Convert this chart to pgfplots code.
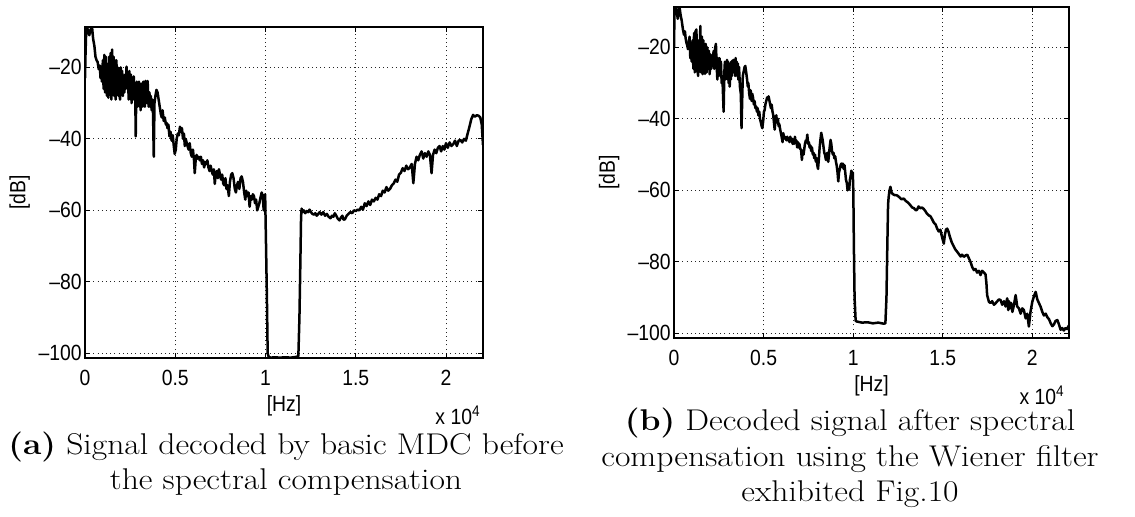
\documentclass[border=0pt]{standalone}
\usepackage{pgfplots}
\pgfplotsset{compat=1.18}
\usepackage{pgfplotstable}
\usepackage{graphicx}
\usepackage{fontspec}
\newfontfamily\arial[FakeStretch=0.88]{Liberation Sans}

\pgfplotstableread{
x y
0.000 -23
0.003 -16
0.007 -9
0.012 -8.9
0.018 -10
0.024 -11
0.030 -9.5
0.036 -9
0.040 -9.2
0.045 -12
0.052 -14
0.058 -17
0.064 -18
0.070 -18.5
0.076 -20.5
0.082 -19.5
0.086 -23
0.090 -21
0.094 -24
0.099 -18
0.103 -26
0.107 -16.5
0.111 -27
0.115 -17
0.119 -25
0.122 -28
0.126 -19
0.130 -28.5
0.134 -17
0.138 -27
0.142 -16
0.146 -29
0.150 -15
0.154 -27
0.158 -17
0.162 -28
0.166 -18
0.170 -29
0.174 -18
0.178 -27
0.182 -20
0.186 -28
0.190 -21
0.194 -29
0.198 -20
0.202 -27
0.206 -21
0.210 -28
0.214 -23
0.218 -27
0.222 -22
0.226 -26
0.230 -19.8
0.234 -24
0.238 -22
0.242 -29
0.246 -21
0.250 -28
0.254 -22
0.258 -30
0.262 -23
0.266 -29
0.270 -22.5
0.275 -28
0.278 -25
0.281 -39.3
0.284 -27
0.287 -24
0.290 -31
0.293 -25
0.296 -30
0.299 -24
0.302 -31
0.305 -25
0.308 -32
0.311 -24.5
0.314 -30
0.317 -25
0.320 -31
0.323 -24
0.326 -30
0.329 -24.5
0.332 -31
0.335 -23.8
0.338 -29
0.341 -24
0.344 -30
0.347 -23.8
0.350 -28
0.353 -31
0.357 -27
0.361 -31
0.365 -28
0.369 -32
0.373 -29
0.377 -33
0.381 -45
0.385 -30
0.390 -28
0.396 -26.3
0.402 -27
0.408 -29
0.414 -31
0.420 -33
0.425 -34
0.430 -32
0.436 -35
0.442 -34
0.448 -36
0.452 -35.5
0.457 -37
0.462 -36
0.468 -39.3
0.474 -38
0.480 -40.5
0.486 -39
0.492 -42
0.497 -44.2
0.503 -43
0.508 -40
0.514 -38.5
0.520 -39
0.526 -36.6
0.532 -38
0.537 -37
0.543 -40
0.548 -38.5
0.553 -42
0.558 -40
0.563 -41
0.568 -42
0.574 -43
0.580 -41.2
0.586 -44
0.592 -45
0.598 -43
0.604 -46
0.608 -49.6
0.613 -46
0.618 -44.5
0.624 -45.5
0.630 -45
0.636 -46
0.642 -45
0.648 -47
0.654 -46
0.660 -48
0.666 -46.5
0.672 -47
0.678 -46
0.684 -48
0.690 -49
0.696 -47.5
0.702 -49
0.708 -50
0.714 -48.5
0.719 -52.6
0.724 -50
0.730 -49
0.736 -51
0.742 -48.5
0.748 -50
0.754 -51.4
0.760 -50
0.766 -52.5
0.772 -53
0.778 -51
0.784 -54
0.790 -53
0.797 -56
0.803 -52
0.810 -50
0.816 -49.6
0.823 -51
0.830 -54
0.836 -55
0.842 -53
0.848 -52
0.855 -54
0.862 -51
0.868 -50.5
0.875 -52
0.882 -55
0.888 -57
0.893 -54.5
0.900 -56
0.906 -55
0.912 -59
0.918 -56
0.924 -57
0.930 -55.5
0.936 -56
0.942 -58
0.948 -57
0.954 -60
0.960 -59
0.966 -58
0.972 -56.5
0.979 -55
0.985 -56
0.990 -60
0.994 -58
0.998 -55.5
1.003 -70
1.008 -85
1.012 -100
1.018 -101
1.030 -101.2
1.050 -101.1
1.080 -101.2
1.110 -101.1
1.140 -101.2
1.170 -101.0
1.182 -100.8
1.188 -90
1.193 -75
1.197 -62
1.200 -59.5
1.205 -60.5
1.212 -60
1.220 -60.8
1.228 -60.2
1.236 -60.5
1.244 -59.8
1.252 -60.5
1.260 -61
1.268 -61.2
1.276 -60.8
1.284 -61.5
1.292 -61
1.300 -60.5
1.310 -61.2
1.320 -60.5
1.330 -61.5
1.340 -61
1.350 -61.8
1.360 -62.2
1.368 -61.5
1.376 -61.8
1.384 -60.8
1.392 -61.5
1.400 -62.3
1.410 -62.8
1.418 -62
1.426 -61.5
1.432 -62.6
1.440 -62.5
1.450 -61.5
1.460 -61
1.470 -60.5
1.480 -60.8
1.490 -60
1.500 -60.2
1.510 -59.8
1.520 -60
1.530 -59
1.540 -59.8
1.550 -58
1.560 -58.8
1.570 -57.5
1.580 -58.5
1.590 -57
1.600 -57.5
1.610 -56.5
1.620 -57
1.630 -55.5
1.640 -56
1.650 -54.5
1.660 -55
1.670 -53.5
1.680 -54.5
1.690 -54
1.700 -53
1.710 -52.5
1.720 -51.4
1.730 -52
1.740 -50
1.750 -49.5
1.760 -48.2
1.770 -49
1.780 -47.5
1.790 -48.5
1.800 -48
1.810 -47
1.819 -52.4
1.828 -47
1.837 -45
1.846 -46
1.855 -44.5
1.865 -43.5
1.874 -45.5
1.883 -44
1.893 -45
1.902 -43.5
1.911 -44.5
1.920 -49.6
1.928 -44.5
1.937 -43
1.946 -44
1.955 -42.5
1.964 -42
1.973 -43.5
1.982 -42
1.991 -43
2.000 -41.2
2.010 -42.5
2.020 -41
2.030 -42
2.040 -41.5
2.050 -40.5
2.060 -42
2.070 -40.5
2.080 -40.3
2.090 -41
2.100 -40
2.110 -40.5
2.120 -38.5
2.130 -36.6
2.140 -34.5
2.150 -33.3
2.160 -33.8
2.170 -33.4
2.180 -33.5
2.190 -34
2.198 -36
2.205 -41.7
}\dataA

\pgfplotstableread{
x y
0.000 -20
0.003 -9
0.009 -8.7
0.015 -10
0.021 -12
0.026 -9.5
0.031 -8.8
0.037 -11
0.043 -12.5
0.050 -15
0.056 -16.5
0.061 -15.5
0.065 -17.5
0.069 -18.6
0.074 -19.5
0.078 -20.5
0.082 -19
0.087 -17
0.091 -23
0.095 -19
0.099 -24
0.104 -18
0.108 -26
0.112 -16
0.116 -27
0.120 -15.5
0.125 -15
0.130 -26
0.135 -28
0.139 -18
0.143 -25
0.147 -14
0.151 -27
0.156 -17
0.160 -27.5
0.164 -18
0.169 -26
0.173 -27.4
0.177 -19
0.182 -27
0.186 -20
0.190 -26
0.195 -21
0.199 -27.5
0.204 -22
0.208 -26
0.212 -23
0.216 -25
0.221 -21
0.225 -26
0.230 -20
0.234 -19
0.238 -25
0.242 -29
0.246 -23
0.250 -28
0.254 -23
0.258 -27
0.262 -24
0.266 -30
0.270 -28
0.277 -38
0.281 -27
0.284 -24
0.287 -29
0.290 -24
0.293 -28
0.296 -23.5
0.299 -29
0.302 -24
0.305 -30
0.308 -25
0.311 -31
0.314 -24.5
0.317 -29
0.320 -24
0.323 -28
0.326 -23.7
0.329 -27
0.332 -23.5
0.335 -27
0.338 -24
0.341 -28
0.344 -23
0.347 -27
0.350 -24
0.353 -28
0.356 -24.5
0.359 -29
0.363 -25.5
0.368 -31
0.373 -33
0.377 -42.6
0.381 -34
0.384 -28
0.390 -26.5
0.394 -25.5
0.398 -25.2
0.403 -27
0.408 -29
0.412 -31
0.415 -30
0.420 -33
0.424 -34.4
0.428 -32
0.433 -35
0.437 -33
0.441 -34
0.446 -36
0.450 -35
0.454 -37
0.458 -36.5
0.463 -38
0.467 -37
0.471 -39
0.476 -38
0.480 -40
0.485 -41
0.489 -42
0.493 -42.6
0.498 -40.5
0.502 -38
0.506 -37.5
0.510 -36
0.515 -35
0.520 -34
0.524 -34.5
0.528 -33.7
0.533 -35
0.537 -36
0.541 -37
0.545 -36
0.550 -38
0.554 -39
0.558 -41
0.562 -43
0.567 -40
0.571 -39
0.575 -41
0.580 -40
0.584 -42
0.588 -41.5
0.593 -43
0.597 -44
0.601 -45
0.606 -46.5
0.610 -44
0.615 -45.5
0.619 -45
0.623 -45.5
0.628 -46
0.632 -45
0.636 -46
0.640 -45.5
0.645 -46.5
0.649 -45
0.653 -46
0.657 -45.5
0.662 -47
0.666 -45.8
0.670 -47
0.675 -45
0.679 -46.5
0.683 -46
0.688 -48
0.692 -46.5
0.696 -48
0.700 -47
0.705 -48.5
0.709 -48.5
0.714 -51.5
0.718 -49
0.723 -50
0.727 -48.5
0.731 -47
0.736 -46
0.740 -46.5
0.744 -44.4
0.749 -47
0.753 -46.5
0.757 -48
0.762 -47.5
0.766 -49
0.770 -48
0.775 -50
0.779 -49.5
0.783 -51
0.787 -50
0.792 -52
0.796 -51
0.800 -53
0.804 -54
0.809 -51
0.813 -48
0.817 -46
0.822 -43.9
0.826 -45
0.830 -46
0.835 -48
0.839 -49.5
0.843 -50
0.848 -51.5
0.852 -50
0.856 -49.5
0.861 -52
0.865 -50
0.869 -48
0.874 -45.9
0.878 -47
0.882 -49
0.887 -50
0.891 -49.5
0.895 -51
0.900 -50.5
0.904 -52
0.908 -53
0.913 -55
0.917 -57.5
0.921 -55
0.926 -54
0.930 -53
0.934 -52.5
0.939 -53.5
0.943 -52.5
0.947 -54
0.952 -53
0.956 -55
0.960 -57
0.965 -58
0.969 -60
0.973 -58.5
0.978 -59.8
0.982 -57
0.986 -56
0.990 -54.5
0.995 -56
0.998 -55
1.001 -60
1.004 -75
1.008 -90
1.014 -96.5
1.021 -96.7
1.050 -97
1.080 -96.9
1.110 -97.2
1.140 -97
1.170 -97.3
1.180 -97.2
1.186 -90
1.191 -75
1.195 -64
1.198 -62
1.203 -60
1.208 -59
1.214 -60.5
1.220 -61
1.230 -61.3
1.245 -61.4
1.260 -62
1.270 -62.5
1.282 -62.3
1.295 -63
1.308 -63.5
1.320 -64.2
1.330 -64.8
1.340 -65
1.350 -65.6
1.357 -65.4
1.365 -64.5
1.375 -65
1.385 -64.8
1.394 -65.2
1.403 -65.8
1.412 -66.5
1.422 -67
1.431 -67.2
1.440 -68
1.450 -69
1.460 -69.5
1.469 -70.7
1.478 -71.5
1.487 -71
1.496 -73
1.506 -74.9
1.512 -72.5
1.518 -71
1.525 -70.7
1.532 -71.5
1.540 -73
1.550 -74.5
1.560 -75.5
1.570 -76.5
1.581 -77.2
1.590 -77.8
1.600 -78.5
1.608 -78
1.618 -78.6
1.628 -78.2
1.637 -78
1.646 -79
1.655 -80
1.665 -81.5
1.674 -82.3
1.683 -82
1.692 -83
1.702 -82.5
1.711 -83.7
1.720 -82.5
1.730 -83
1.739 -83.5
1.744 -86
1.748 -89.3
1.758 -91.2
1.767 -91.5
1.776 -91
1.786 -92
1.795 -91.6
1.805 -91
1.814 -90.5
1.823 -90.7
1.832 -92
1.842 -91
1.851 -92.5
1.860 -90.2
1.866 -93.5
1.870 -91
1.876 -93
1.882 -91.5
1.889 -94
1.898 -92
1.907 -89.3
1.916 -92.5
1.925 -93
1.935 -94.5
1.944 -93
1.953 -93.5
1.963 -95.8
1.972 -94.5
1.981 -98.1
1.990 -94
2.000 -91.2
2.010 -89.5
2.019 -88.4
2.028 -90.5
2.037 -91.5
2.046 -92.5
2.056 -94
2.065 -95
2.075 -94.5
2.084 -95.5
2.093 -96
2.103 -97.2
2.112 -98
2.121 -97.5
2.130 -96.5
2.140 -96.3
2.149 -97.5
2.158 -99
2.167 -98.5
2.176 -99.2
2.186 -98.5
2.195 -98.8
2.202 -98
2.209 -97.5
}\dataB

\newcommand\tfont{\arial\fontsize{11}{12.5}\selectfont}

\pgfplotsset{
  mat/.style={
    scale only axis,
    xmin=0, xmax=2.205,
    ymin=-101.3, ymax=-8.7,
    xtick={0,0.5,1,1.5,2},
    xticklabels={0,0.5,1,1.5,2},
    ytick={-100,-80,-60,-40,-20},
    yticklabels={\textendash100,\textendash80,\textendash60,\textendash40,\textendash20},
    tick align=inside,
    major tick length=2.5pt,
    grid=major,
    major grid style={black!85, line width=0.5pt, dash pattern=on 0.5pt off 1.6pt},
    axis line style={black, line width=0.6pt},
    every tick/.style={black, line width=0.5pt},
    ticklabel style={font=\tfont},
    xticklabel style={inner ysep=0pt, yshift=-6pt},
    yticklabel style={inner xsep=1.5pt},
    label style={font=\tfont},
    xlabel={[Hz]},
    ylabel={[dB]},
    xlabel style={at={(axis description cs:0.5,-0.145)}, anchor=center},
    ylabel style={at={(axis description cs:-0.164,0.5)}, anchor=center},
    clip mode=individual,
  },
}

\begin{document}
\begin{tikzpicture}[x=1pt,y=1pt]
\path[use as bounding box] (0,0) rectangle (567.5,258.5);

\begin{axis}[mat, at={(42.5pt,79.5pt)}, anchor=south west, width=199pt, height=165.5pt]
\addplot[black, line width=1.25pt, line join=round] table[x=x,y=y] {\dataA};
\node[font=\tfont, anchor=east, inner sep=0pt] at (axis description cs:0.995,-0.173) {x 10\textsuperscript{4}};
\end{axis}

\begin{axis}[mat, at={(337pt,89.5pt)}, anchor=south west, width=197.5pt, height=165.5pt]
\addplot[black, line width=1.25pt, line join=round] table[x=x,y=y] {\dataB};
\node[font=\tfont, anchor=east, inner sep=0pt] at (axis description cs:0.99,-0.173) {x 10\textsuperscript{4}};
\end{axis}

\begin{scope}[every node/.style={anchor=base, inner sep=0pt, font=\fontsize{15}{17}\selectfont}]
\node at (143,31) {\scalebox{1.12}[1]{\textbf{(a)} Signal decoded by basic MDC before}};
\node at (143,13.5) {\scalebox{1.12}[1]{the spectral compensation}};
\node at (425,43) {\scalebox{1.12}[1]{\textbf{(b)} Decoded signal after spectral}};
\node at (425,25) {\scalebox{1.12}[1]{compensation using the Wiener filter}};
\node at (425,7.5) {\scalebox{1.12}[1]{exhibited Fig.10}};
\end{scope}
\end{tikzpicture}
\end{document}
